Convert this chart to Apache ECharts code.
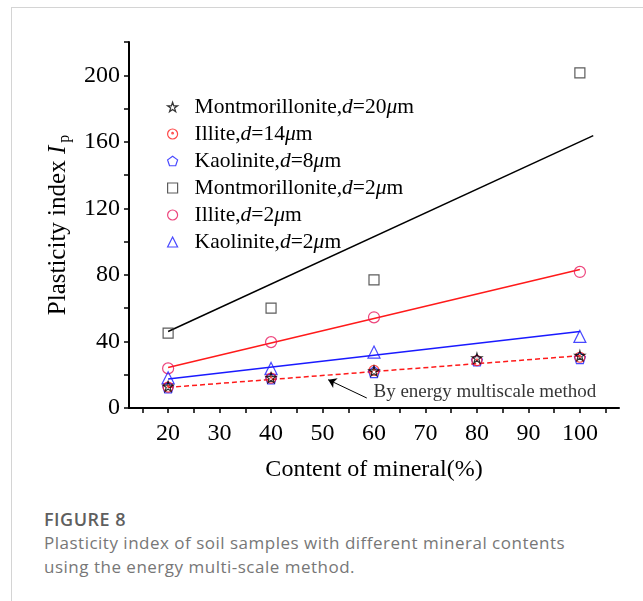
<!DOCTYPE html>
<html>
<head>
<meta charset="utf-8">
<script src="https://cdn.jsdelivr.net/npm/echarts@6/dist/echarts.min.js"></script>
<style>
  body { margin: 0; background: #fff; }
  #frame { position: absolute; left: 11px; top: 7px; width: 700px; height: 700px;
    border-top: 1px solid #d4d4d4; border-left: 1px solid #d4d4d4; }
  #chart { position: absolute; left: 0; top: 0; width: 643px; height: 500px; }
  #caption { position: absolute; left: 44px; top: 507px; font-family: "Open Sans", "Noto Sans", sans-serif; color: #777; }
  #caption .fig { font-size: 18px; font-weight: 600; color: #5f5f5f; line-height: 24px; letter-spacing: 0.5px; }
  #caption .txt { font-size: 17px; line-height: 24px; letter-spacing: 0.5px; }
</style>
</head>
<body>
<div id="frame"></div>
<div id="chart"></div>
<div id="caption">
  <div class="fig">FIGURE 8</div>
  <div class="txt">Plasticity index of soil samples with different mineral contents<br>using the energy multi-scale method.</div>
</div>
<script>
// 实测数据 (d = 2um)
var montD2 = [[20, 45], [40, 60], [60, 77], [100, 201.5]];
var illiteD2 = [[20, 23.8], [40, 39.6], [60, 54.5], [100, 81.8]];
var kaolD2 = [[20, 18.2], [40, 23.8], [60, 33.6], [100, 43]];
// 能量多尺度法
var montD20 = [[20, 13], [40, 18.2], [60, 22.2], [80, 30], [100, 31.5]];
var illiteD14 = [[20, 12.6], [40, 18], [60, 22.6], [80, 28.5], [100, 30.5]];
var kaolD8 = [[20, 12.4], [40, 17.8], [60, 21.6], [80, 28.6], [100, 30]];
// 拟合线
var fitMont = [[20, 46], [102.6, 163.7]];
var fitIllite = [[20, 24.3], [100, 83.3]];
var fitKaol = [[20, 17.5], [100, 46]];
var fitEnergy = [[20, 12.4], [100, 31.4]];
// 标注箭头
var arrowLine = [[58.6, 6], [51.1, 17]];
var arrowText = [[59.9, 9.6]];
// 刻度
var xTicks = [15, 20, 25, 30, 35, 40, 45, 50, 55, 60, 65, 70, 75, 80, 85, 90, 95, 100, 105];
var xLabels = [20, 30, 40, 50, 60, 70, 80, 90, 100];
var yTicks = [0, 20, 40, 60, 80, 100, 120, 140, 160, 180, 200, 220];
var yLabels = [0, 40, 80, 120, 160, 200];

var serif = '"Liberation Serif", "Times New Roman", serif';
var STAR = 'path://M50,0 L61.8,35.4 L100,35.4 L69.1,57.3 L80.9,95.1 L50,72 L19.1,95.1 L30.9,57.3 L0,35.4 L38.2,35.4 Z';
var PENTA = 'path://M50,0 L100,36.3 L80.9,95.1 L19.1,95.1 L0,36.3 Z';
var CDOT = 'path://M50,0 A50,50 0 1 1 49.99,0 Z M50,34 A8,8 0 1 1 49.99,34 Z';

// 图例顺序与样式
var legendNames = ['Montmorillonite,d=20μm', 'Illite,d=14μm', 'Kaolinite,d=8μm',
  'Montmorillonite,d=2μm', 'Illite,d=2μm', 'Kaolinite,d=2μm'];
var legendColors = ['#000', '#ff1a1a', '#1a1aff', '#333', '#e8175d', '#1a1aff'];
var legendIcons = [STAR, CDOT, PENTA, 'rect', 'circle', 'triangle'];

function hollow(name, data, symbol, size, color) {
  return {
    name: name,
    type: 'scatter',
    data: data,
    symbol: symbol,
    symbolSize: size,
    z: 3,
    itemStyle: { color: 'rgba(0,0,0,0)', borderColor: color, borderWidth: 1.2 }
  };
}
function fit(data, color, dashed) {
  return {
    type: 'line',
    data: data,
    symbol: 'none',
    silent: true,
    z: 2,
    lineStyle: { color: color, width: 1.5, type: dashed ? [5, 3] : 'solid' }
  };
}

var myChart = echarts.init(document.getElementById('chart'));
var option = {
  animation: false,
  grid: { left: 129, right: 24, top: 42, bottom: 92, containLabel: false, outerBoundsMode: 'none' },
  legend: {
    orient: 'vertical',
    left: 162,
    top: 91,
    itemWidth: 10,
    itemHeight: 10,
    itemGap: 5,
    data: legendNames.map(function (n, i) {
      return {
        name: n,
        icon: legendIcons[i],
        itemStyle: { color: 'rgba(0,0,0,0)', borderColor: legendColors[i], borderWidth: 1.2 }
      };
    }),
    formatter: function (name) {
      var p = name.split(',');
      var rest = p[1].replace('d=', '').replace('μm', '');
      return p[0] + ',{i|d}=' + rest + '{i|μ}m';
    },
    textStyle: {
      fontFamily: serif, fontSize: 21.5, color: '#000', lineHeight: 22,
      padding: [0, 0, 0, 12],
      rich: { i: { fontFamily: serif, fontSize: 21.5, fontStyle: 'italic', color: '#000' } }
    }
  },
  xAxis: {
    type: 'value',
    min: 12.4,
    max: 107.6,
    name: 'Content of mineral(%)',
    nameLocation: 'middle',
    nameGap: 50,
    nameTextStyle: { fontFamily: serif, fontSize: 24, color: '#000' },
    axisLine: { lineStyle: { color: '#000', width: 2 } },
    axisTick: { customValues: xTicks, length: 5, lineStyle: { color: '#000', width: 1.5 } },
    axisLabel: { customValues: xLabels, margin: 14, fontFamily: serif, fontSize: 24, color: '#000' },
    splitLine: { show: false }
  },
  yAxis: {
    type: 'value',
    min: 0,
    max: 220,
    name: '{n|Plasticity index }{i|I}{s|p}',
    nameLocation: 'middle',
    nameGap: 55,
    nameRotate: 90,
    nameTextStyle: {
      fontFamily: serif, fontSize: 25, color: '#000', lineHeight: 30,
      rich: {
        n: { fontFamily: serif, fontSize: 25, color: '#000' },
        i: { fontFamily: serif, fontSize: 25, fontStyle: 'italic', color: '#000' },
        s: { fontFamily: serif, fontSize: 16, color: '#000', verticalAlign: 'bottom', padding: [0, 0, 0, 3] }
      }
    },
    axisLine: { show: true, lineStyle: { color: '#000', width: 2 } },
    axisTick: { show: true, customValues: yTicks, length: 5, lineStyle: { color: '#000', width: 1.5 } },
    axisLabel: { customValues: yLabels, margin: 9, fontFamily: serif, fontSize: 24, color: '#000' },
    splitLine: { show: false }
  },
  series: [
    fit(fitMont, '#000', false),
    fit(fitIllite, '#ff1a1a', false),
    fit(fitKaol, '#1a1aff', false),
    fit(fitEnergy, '#ff1a1a', true),
    hollow('Montmorillonite,d=2μm', montD2, 'rect', 10, '#333'),
    hollow('Illite,d=2μm', illiteD2, 'circle', 11, '#e8175d'),
    hollow('Kaolinite,d=2μm', kaolD2, 'triangle', 12, '#1a1aff'),
    hollow('Kaolinite,d=8μm', kaolD8, PENTA, 11, '#1a1aff'),
    hollow('Illite,d=14μm', illiteD14, CDOT, 10, '#ff1a1a'),
    hollow('Montmorillonite,d=20μm', montD20, STAR, 10, '#000'),
    {
      type: 'lines',
      coordinateSystem: 'cartesian2d',
      silent: true,
      symbol: ['none', 'arrow'],
      symbolSize: 8,
      lineStyle: { color: '#000', width: 1, opacity: 1 },
      data: [{ coords: arrowLine }]
    },
    {
      type: 'scatter',
      silent: true,
      data: arrowText,
      symbolSize: 0,
      label: {
        show: true, position: 'right', distance: 0,
        formatter: 'By energy multiscale method',
        fontFamily: serif, fontSize: 19, color: '#000'
      }
    }
  ]
};
option && myChart.setOption(option);
</script>
</body>
</html>
